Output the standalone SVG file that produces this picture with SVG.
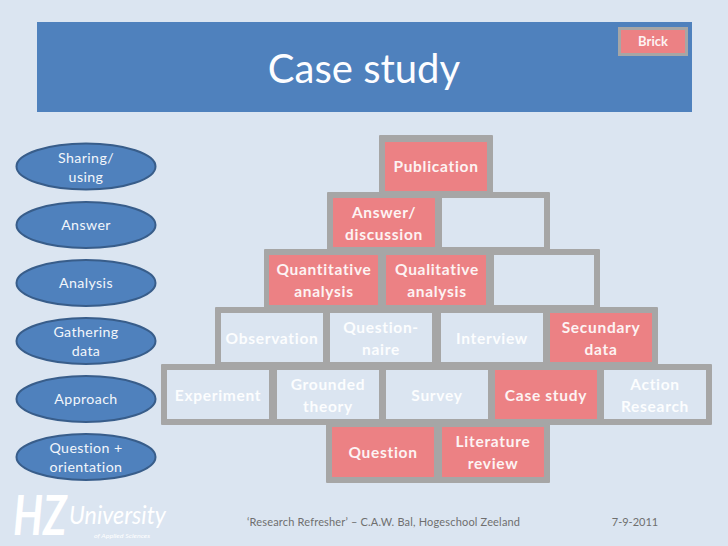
<svg xmlns="http://www.w3.org/2000/svg" width="728" height="546" viewBox="0 0 728 546">
<style>
text{font-family:"Lato","Liberation Sans",sans-serif;text-anchor:middle}
.g{fill:#a6a6a6}
.b{fill:#dbe5f1}
.p{fill:#ec8184}
.bt{font-size:15.5px;font-weight:700;fill:#fdf3f3;letter-spacing:.7px}
.lt{fill:#fcfdfe}
.e{fill:#4f81bd;stroke:#385d8a;stroke-width:2}
.et{font-size:14.2px;fill:#f2f6fb;letter-spacing:.4px}
.f{font-size:11px;fill:#6f6f6f}
.l{text-anchor:start;font-style:italic;fill:#fff}
</style>
<rect width="728" height="546" fill="#dbe5f1"/>
<g id="header">
<rect x="37" y="22" width="655" height="90" fill="#4f81bd"/>
<text x="364" y="83" font-size="40" fill="#fdfdff">Case study</text>
</g>
<g id="brick-legend">
<rect x="618" y="27" width="70" height="29" class="g"/>
<rect x="621" y="30" width="64" height="23" class="p"/>
<text x="653" y="46" font-size="13" font-weight="700" fill="#fdf3f3">Brick</text>
</g>
<g id="wall">
<path class="g" d="M380 136H492V193H549V250H599V308H657V365H711V424H549V482H327V424H162V365H216V308H265V250H328V193H380Z" stroke="#a6a6a6" stroke-linejoin="round" stroke-width="2"/>
</g>
<g id="n-publication"><rect x="385" y="142" width="102" height="49" class="p"/><text x="436" y="172" class="bt">Publication</text></g>
<g id="n-answer-discussion"><rect x="333" y="198" width="102" height="49" class="p"/><text x="384" y="218" class="bt">Answer/</text><text x="384" y="240" class="bt">discussion</text></g>
<g id="n-empty-1"><rect x="442" y="198" width="102" height="49" class="b"/></g>
<g id="n-quantitative"><rect x="269" y="255" width="109" height="50" class="p"/><text x="324" y="275" class="bt">Quantitative</text><text x="324" y="297" class="bt">analysis</text></g>
<g id="n-qualitative"><rect x="386" y="255" width="100" height="50" class="p"/><text x="437" y="275" class="bt">Qualitative</text><text x="437" y="297" class="bt">analysis</text></g>
<g id="n-empty-2"><rect x="494" y="255" width="100" height="50" class="b"/></g>
<g id="n-observation"><rect x="221" y="313" width="102" height="49" class="b"/><text x="272" y="344" class="bt lt">Observation</text></g>
<g id="n-questionnaire"><rect x="330" y="313" width="102" height="49" class="b"/><text x="381" y="333" class="bt lt">Question-</text><text x="381" y="355" class="bt lt">naire</text></g>
<g id="n-interview"><rect x="441" y="313" width="102" height="49" class="b"/><text x="492" y="344" class="bt lt">Interview</text></g>
<g id="n-secundary"><rect x="550" y="313" width="102" height="49" class="p"/><text x="601" y="333" class="bt">Secundary</text><text x="601" y="355" class="bt">data</text></g>
<g id="n-experiment"><rect x="167" y="370" width="102" height="49" class="b"/><text x="218" y="401" class="bt lt">Experiment</text></g>
<g id="n-grounded"><rect x="277" y="370" width="102" height="49" class="b"/><text x="328" y="390" class="bt lt">Grounded</text><text x="328" y="412" class="bt lt">theory</text></g>
<g id="n-survey"><rect x="386" y="370" width="102" height="49" class="b"/><text x="437" y="401" class="bt lt">Survey</text></g>
<g id="n-case-study"><rect x="495" y="370" width="102" height="49" class="p"/><text x="546" y="401" class="bt">Case study</text></g>
<g id="n-action"><rect x="604" y="370" width="102" height="49" class="b"/><text x="655" y="390" class="bt lt">Action</text><text x="655" y="412" class="bt lt">Research</text></g>
<g id="n-question"><rect x="332" y="427" width="102" height="50" class="p"/><text x="383" y="458" class="bt">Question</text></g>
<g id="n-literature"><rect x="442" y="427" width="102" height="50" class="p"/><text x="493" y="447" class="bt">Literature</text><text x="493" y="469" class="bt">review</text></g>
<g id="e-sharing"><ellipse cx="86" cy="166.500" rx="69.500" ry="23" class="e"/><text x="86" y="163" class="et">Sharing/</text><text x="86" y="182" class="et">using</text></g>
<g id="e-answer"><ellipse cx="86" cy="225" rx="69.500" ry="23" class="e"/><text x="86" y="230" class="et">Answer</text></g>
<g id="e-analysis"><ellipse cx="86" cy="283" rx="69.500" ry="23" class="e"/><text x="86" y="288" class="et">Analysis</text></g>
<g id="e-gathering"><ellipse cx="86" cy="341" rx="69.500" ry="23" class="e"/><text x="86" y="337" class="et">Gathering</text><text x="86" y="356" class="et">data</text></g>
<g id="e-approach"><ellipse cx="86" cy="399" rx="69.500" ry="23" class="e"/><text x="86" y="404" class="et">Approach</text></g>
<g id="e-question"><ellipse cx="86" cy="457" rx="69.500" ry="23" class="e"/><text x="86" y="453" class="et">Question +</text><text x="86" y="472" class="et">orientation</text></g>
<g id="logo">
<text transform="translate(13 535) scale(1 1.3)" font-size="42" font-weight="700" class="l">HZ</text>
<text x="69" y="524" font-size="26" class="l" textLength="97" lengthAdjust="spacingAndGlyphs">University</text>
<text x="94" y="538" font-size="6.500" class="l" textLength="56" lengthAdjust="spacingAndGlyphs">of Applied Sciences</text>
</g>
<g id="footer">
<text x="383.500" y="526" class="f" textLength="273" lengthAdjust="spacing">‘Research Refresher’  –  C.A.W. Bal, Hogeschool Zeeland</text>
<text x="635" y="526" class="f">7-9-2011</text>
</g>
</svg>
